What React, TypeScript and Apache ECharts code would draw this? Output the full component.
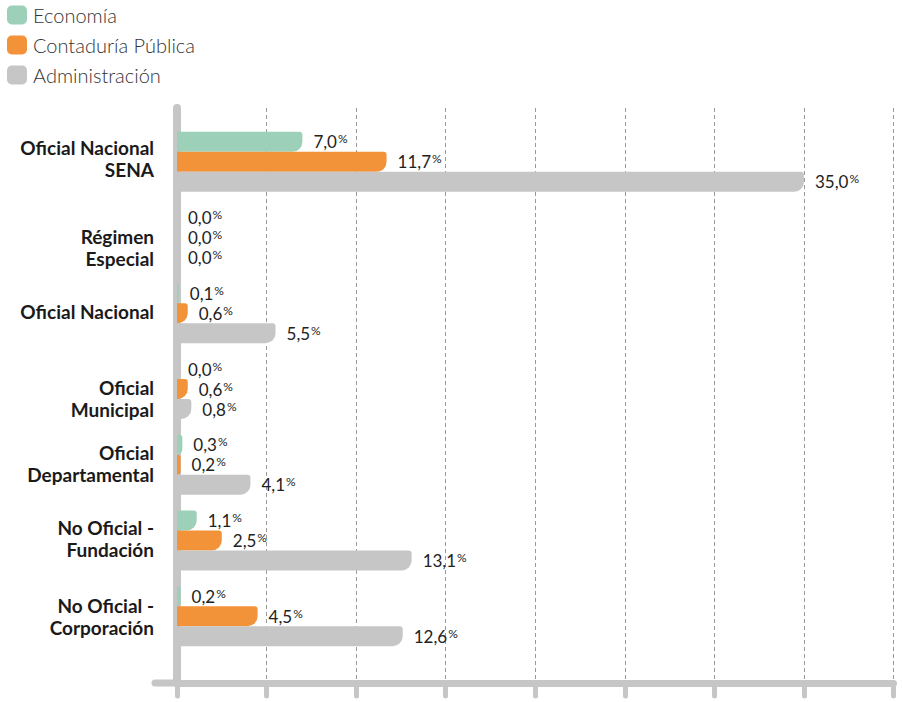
import React, { useEffect, useRef } from "react";
import * as echarts from "echarts";

const categories = [
  "Oficial Nacional\nSENA",
  "Régimen\nEspecial",
  "Oficial Nacional",
  "Oficial\nMunicipal",
  "Oficial\nDepartamental",
  "No Oficial -\nFundación",
  "No Oficial -\nCorporación",
];
const economia = [7.0, 0.0, 0.1, 0.0, 0.3, 1.1, 0.2];
const contaduria = [11.7, 0.0, 0.6, 0.6, 0.2, 2.5, 4.5];
const administracion = [35.0, 0.0, 5.5, 0.8, 4.1, 13.1, 12.6];
const seriesNames = ["Economía", "Contaduría Pública", "Administración"];
const colors = ["#9dd0b8", "#f39339", "#c6c6c6"];

const AXIS_GREY = "#c6c6c6";
// vertical nudge (px, + = down) of each category's axis label
const labelShift = [-3, 10, -2, 9, -1, -2, 0];

export default function App() {
  const ref = useRef<HTMLDivElement>(null);
  useEffect(() => {
    if (!ref.current) return;
    const chart = echarts.init(ref.current, null, { renderer: "svg" });
    const label = {
      show: true,
      position: "right",
      distance: 11,
      formatter: (p: any) => `{v|${Number(p.value).toFixed(1).replace(".", ",")}}{p|%}`,
      rich: {
        v: { fontSize: 17, color: "#222", fontFamily: "Lato" },
        p: { fontSize: 12, color: "#222", fontFamily: "Lato", padding: [0, 0, 6, 1] },
      },
    };
    const mk = (name: string, data: number[], color: string) => ({
      name,
      type: "bar",
      xAxisIndex: 0,
      yAxisIndex: 0,
      data,
      barWidth: 20,
      barGap: "0%",
      itemStyle: { color, borderRadius: [0, 3, 10, 0] },
      label,
    });
    const gapRich: Record<string, any> = {};
    labelShift.forEach((s, i) => {
      gapRich["g" + i] = { fontSize: 1, lineHeight: Math.max(1, Math.abs(s) * 2) };
    });
    chart.setOption({
      animation: false,
      textStyle: { fontFamily: "Lato" },
      color: colors,
      legend: {
        orient: "vertical",
        left: 7,
        top: 5,
        padding: 0,
        itemWidth: 20,
        itemHeight: 19,
        itemGap: 10,
        icon: "roundRect",
        textStyle: { fontSize: 20, fontWeight: 300, color: "#333", fontFamily: "Lato", padding: [0, 0, 0, 1] },
        data: seriesNames,
      },
      grid: [
        { left: 177, right: 8.5, top: 124, bottom: 48 },
        { left: 177, right: 8.5, top: 108, bottom: 19 },
      ],
      xAxis: [
        {
          gridIndex: 0,
          type: "value",
          min: 0,
          max: 40,
          interval: 5,
          show: false,
        },
        {
          gridIndex: 1,
          type: "value",
          min: 0,
          max: 40,
          interval: 5,
          axisLine: { show: true, lineStyle: { color: AXIS_GREY, width: 7, cap: "round" } },
          axisTick: { show: true, length: 13, inside: false, lineStyle: { color: AXIS_GREY, width: 5, cap: "round" } },
          axisLabel: { show: false },
          splitLine: { show: true, lineStyle: { color: "#9a9a9a", width: 1, type: [4, 3] } },
        },
      ],
      yAxis: [
        {
          gridIndex: 0,
          type: "category",
          inverse: true,
          data: categories,
          axisLine: { show: false },
          axisTick: { show: false },
          axisLabel: {
            margin: 23,
            fontSize: 19,
            fontWeight: "bold",
            color: "#1a1a1a",
            lineHeight: 22,
            fontFamily: "Lato",
            formatter: (value: string, index: number) => {
              const s = labelShift[index] || 0;
              if (s > 0) return `{g${index}| }\n${value}`;
              if (s < 0) return `${value}\n{g${index}| }`;
              return value;
            },
            rich: gapRich,
          },
        },
        {
          gridIndex: 1,
          type: "value",
          min: 0,
          max: 1,
          offset: 3,
          axisLine: { show: true, lineStyle: { color: AXIS_GREY, width: 8, cap: "round" } },
          axisTick: { show: false },
          axisLabel: { show: false },
          splitLine: { show: false },
        },
      ],
      graphic: [
        {
          type: "line",
          shape: { x1: 155, y1: 683, x2: 177, y2: 683 },
          style: { stroke: AXIS_GREY, lineWidth: 7, lineCap: "round" },
          z: 0,
        },
      ],
      series: [
        mk(seriesNames[0], economia, colors[0]),
        mk(seriesNames[1], contaduria, colors[1]),
        mk(seriesNames[2], administracion, colors[2]),
      ],
    });
    return () => chart.dispose();
  }, []);
  return (
    <div
      ref={ref}
      style={{ position: "fixed", left: 0, top: 0, width: 902, height: 702, background: "#fff" }}
    />
  );
}
